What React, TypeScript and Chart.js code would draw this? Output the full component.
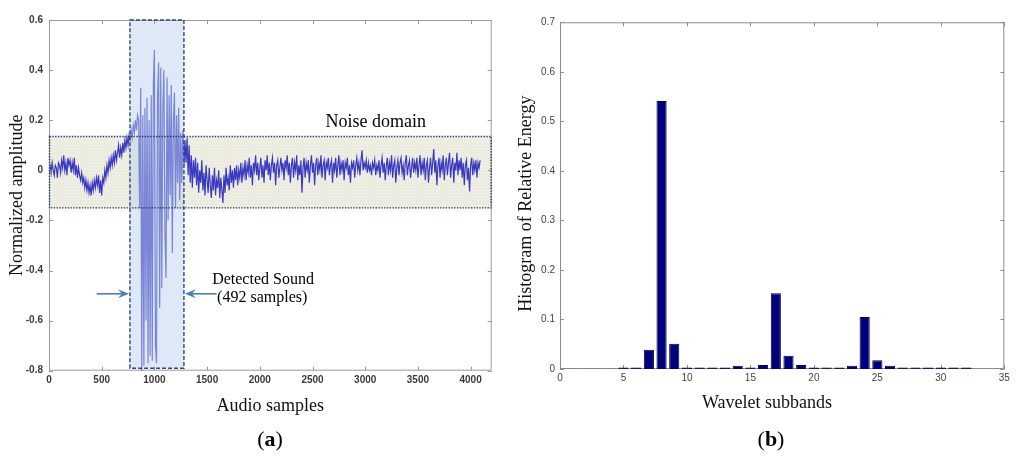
import { useEffect, useRef } from "react";
import { Chart, registerables } from "chart.js";
Chart.register(...registerables);

// ---------- Panel (a): audio waveform ----------
// amplitude sampled every SAMPLE_STEP audio samples, starting at sample 0
const SAMPLE_STEP = 10;
const amplitude: number[] = [
  0.01, 0.02, -0.01, 0.03, 0.0, -0.02, 0.02, 0.01, -0.03, 0.03,
  0.02, -0.01, 0.04, 0.01, 0.06, 0.0, 0.03, -0.02, 0.05, 0.02,
  0.04, -0.01, 0.03, 0.0, 0.05, -0.02, 0.02, -0.03, 0.01, -0.02,
  -0.04, -0.01, -0.05, -0.03, -0.07, -0.04, -0.08, -0.05, -0.09, -0.06,
  -0.1, -0.05, -0.08, -0.04, -0.07, -0.03, -0.06, -0.02, -0.09, -0.04,
  -0.1, -0.03, -0.05, 0.0, -0.03, 0.02, -0.01, 0.04, 0.01, 0.05,
  0.02, 0.06, 0.03, 0.08, 0.04, 0.07, 0.1, 0.05, 0.09, 0.06,
  0.11, 0.07, 0.12, 0.09, 0.13, 0.1, 0.14, 0.12, 0.16, 0.13,
  0.18, 0.15, 0.2, 0.16, 0.22, 0.2, -0.15, 0.33, -0.8, 0.22,
  -0.78, 0.25, -0.6, 0.29, -0.77, 0.2, -0.74, 0.3, -0.76, 0.35,
  0.48, -0.7, -0.77, 0.3, 0.43, -0.55, 0.41, -0.47, 0.25, 0.4,
  -0.25, -0.43, 0.37, -0.2, 0.3, -0.1, 0.34, -0.33, 0.2, 0.31,
  -0.15, 0.22, -0.05, 0.25, -0.12, 0.15, -0.05, 0.16, 0.02, 0.12,
  0.03, 0.13, -0.02, 0.1, -0.05, 0.06, -0.07, 0.04, -0.03, 0.05,
  -0.06, 0.03, -0.09, 0.0, -0.05, 0.04, -0.08, -0.01, -0.1, 0.02,
  -0.04, -0.09, 0.01, -0.06, -0.11, -0.02, -0.08, 0.01, -0.1, -0.04,
  -0.07, 0.0, -0.11, -0.03, -0.08, -0.13, -0.02, -0.09, 0.01, -0.06,
  -0.03, -0.08, 0.02, -0.05, 0.0, -0.07, 0.01, -0.04, 0.02, -0.06,
  0.0, -0.03, 0.03, -0.05, 0.01, -0.02, 0.04, -0.04, 0.02, -0.01,
  0.05, -0.03, 0.02, -0.06, 0.03, 0.0, 0.06, -0.02, 0.03, -0.04,
  0.01, 0.05, -0.03, 0.02, -0.05, 0.04, 0.0, 0.06, -0.02, 0.03,
  -0.04, 0.02, 0.05, -0.01, 0.03, -0.06, 0.02, 0.04, -0.03, 0.01,
  0.05, 0.0, 0.03, -0.04, 0.04, 0.01, 0.06, -0.02, 0.03, -0.05,
  0.02, 0.05, -0.03, 0.03, 0.0, 0.06, -0.04, 0.02, -0.02, 0.04,
  -0.09, 0.01, 0.05, -0.03, 0.03, 0.0, 0.04, -0.05, 0.02, 0.06,
  -0.01, 0.03, -0.06, 0.02, 0.05, -0.02, 0.03, 0.0, 0.06, -0.03,
  0.02, 0.04, -0.04, 0.03, 0.01, 0.05, -0.02, 0.02, 0.04, -0.05,
  0.03, 0.0, 0.05, -0.03, 0.02, 0.06, -0.02, 0.03, 0.0, 0.04,
  -0.04, 0.03, 0.01, 0.05, -0.02, 0.02, -0.05, 0.03, 0.01, 0.04,
  -0.03, 0.02, 0.05, 0.0, 0.03, -0.02, 0.04, 0.08, 0.0, 0.03,
  0.01, 0.04, -0.01, 0.03, 0.0, 0.02, -0.02, 0.03, 0.01, 0.04,
  -0.02, 0.02, 0.0, 0.04, -0.03, 0.02, 0.05, -0.01, 0.03, -0.04,
  0.02, 0.05, -0.02, 0.03, 0.0, 0.06, -0.03, 0.02, 0.04, -0.05,
  0.01, 0.04, -0.02, 0.03, 0.05, -0.01, 0.02, -0.04, 0.03, 0.06,
  -0.02, 0.02, 0.04, -0.03, 0.01, 0.05, -0.01, 0.03, 0.0, 0.05,
  -0.03, 0.02, 0.06, -0.02, 0.03, 0.0, 0.05, -0.04, 0.02, 0.04,
  -0.05, 0.01, 0.05, -0.02, 0.03, 0.085, -0.01, 0.04, -0.06, 0.02,
  0.05, -0.03, 0.03, 0.0, 0.06, -0.04, 0.02, 0.05, -0.02, 0.03,
  0.07, -0.03, 0.02, 0.05, -0.05, 0.03, 0.0, 0.07, -0.02, 0.04,
  0.0, 0.05, -0.03, 0.03, -0.06, 0.02, 0.04, -0.04, 0.01, -0.085,
  0.02, 0.05, -0.02, 0.03, 0.0, 0.04, -0.03, 0.03, 0.01, 0.04,
];
const waveXRange = { min: 0, max: 4200 };
const waveXTicks = [0, 500, 1000, 1500, 2000, 2500, 3000, 3500, 4000];
const waveYRange = { min: -0.8, max: 0.6 };
const waveYTicks = [-0.8, -0.6, -0.4, -0.2, 0, 0.2, 0.4, 0.6];
const noiseDomain = { low: -0.15, high: 0.135 };
const detectedSound = { start: 768, end: 1280, low: -0.79, high: 0.6 };
const noiseLabel = { text: "Noise domain", x: 3100, y: 0.19 };
const soundLabel = ["Detected Sound", "(492 samples)"];
const soundLabelPos = { x: 1548, y1: -0.438, x2: 1595, y2: -0.51 };
const arrowPos = { y: -0.493, leftTail: 452, rightTail: 1590 };

// ---------- Panel (b): wavelet subband histogram ----------
const subbands = [
  1, 2, 3, 4, 5, 6, 7, 8, 9, 10, 11, 12, 13, 14, 15, 16,
  17, 18, 19, 20, 21, 22, 23, 24, 25, 26, 27, 28, 29, 30, 31, 32,
];
const relativeEnergy = [
  0.0002, 0.0002, 0.0002, 0.0002, 0.001, 0.003, 0.039, 0.541,
  0.051, 0.001, 0.0005, 0.001, 0.0025, 0.0065, 0.001, 0.008,
  0.153, 0.027, 0.008, 0.002, 0.001, 0.002, 0.0065, 0.105,
  0.0175, 0.0065, 0.002, 0.001, 0.001, 0.002, 0.001, 0.001,
];
const barXRange = { min: 0, max: 35 };
const barXTicks = [0, 5, 10, 15, 20, 25, 30, 35];
const barYRange = { min: 0, max: 0.7 };
const barYTicks = [0, 0.1, 0.2, 0.3, 0.4, 0.5, 0.6, 0.7];

const W = 1024;
const H = 467;
const SERIF = '"Liberation Serif", "Times New Roman", serif';
const SANS = '"Liberation Sans", Arial, sans-serif';

const fmt1 = (v: number) => {
  const r = Math.round(v * 10) / 10;
  return r === 0 ? "0" : String(r);
};

const setTicks = (values: number[]) => (s: any) => {
  s.ticks = values.map((v) => ({ value: v }));
};

function drawFrame(chart: any, color: string, tickLen: number) {
  const { ctx, chartArea } = chart;
  const { left, right, top, bottom } = chartArea;
  const xs = chart.scales.x;
  const ys = chart.scales.y;
  ctx.save();
  ctx.strokeStyle = color;
  ctx.lineWidth = 1;
  ctx.beginPath();
  ctx.rect(left + 0.5, top + 0.5, right - left - 1, bottom - top - 1);
  ctx.stroke();
  ctx.beginPath();
  xs.ticks.forEach((t: any) => {
    const px = Math.round(xs.getPixelForValue(t.value)) + 0.5;
    ctx.moveTo(px, bottom);
    ctx.lineTo(px, bottom - tickLen);
    ctx.moveTo(px, top);
    ctx.lineTo(px, top + tickLen);
  });
  ys.ticks.forEach((t: any) => {
    const py = Math.round(ys.getPixelForValue(t.value)) + 0.5;
    ctx.moveTo(left, py);
    ctx.lineTo(left + tickLen, py);
    ctx.moveTo(right, py);
    ctx.lineTo(right - tickLen, py);
  });
  ctx.stroke();
  ctx.restore();
}

function drawPanelLabel(ctx: CanvasRenderingContext2D, letter: string, cx: number, cy: number) {
  ctx.save();
  ctx.fillStyle = "#000";
  ctx.textBaseline = "middle";
  const normal = `22px ${SERIF}`;
  const bold = `bold 22px ${SERIF}`;
  ctx.font = normal;
  const wp = ctx.measureText("(").width;
  const wq = ctx.measureText(")").width;
  ctx.font = bold;
  const wl = ctx.measureText(letter).width;
  let x = cx - (wp + wl + wq) / 2;
  ctx.textAlign = "left";
  ctx.font = normal;
  ctx.fillText("(", x, cy);
  x += wp;
  ctx.font = bold;
  ctx.fillText(letter, x, cy);
  x += wl;
  ctx.font = normal;
  ctx.fillText(")", x, cy);
  ctx.restore();
}

function drawArrow(ctx: CanvasRenderingContext2D, x0: number, x1: number, y: number) {
  const dir = Math.sign(x1 - x0);
  ctx.save();
  ctx.strokeStyle = "#4a7ebb";
  ctx.fillStyle = "#4a7ebb";
  ctx.lineWidth = 1.6;
  ctx.beginPath();
  ctx.moveTo(x0, y);
  ctx.lineTo(x1 - dir * 6, y);
  ctx.stroke();
  ctx.beginPath();
  ctx.moveTo(x1, y);
  ctx.lineTo(x1 - dir * 11, y - 4.5);
  ctx.lineTo(x1 - dir * 7, y);
  ctx.lineTo(x1 - dir * 11, y + 4.5);
  ctx.closePath();
  ctx.fill();
  ctx.restore();
}

function makePattern(ctx: CanvasRenderingContext2D, base: string, dot: string) {
  const c = document.createElement("canvas");
  c.width = 3;
  c.height = 3;
  const g = c.getContext("2d")!;
  g.fillStyle = base;
  g.fillRect(0, 0, 3, 3);
  g.fillStyle = dot;
  g.fillRect(1, 1, 1, 1);
  return ctx.createPattern(c, "repeat") || base;
}

const waveDecor = {
  id: "waveDecor",
  beforeDatasetsDraw(chart: any) {
    const { ctx, chartArea } = chart;
    const ys = chart.scales.y;
    const yTop = ys.getPixelForValue(noiseDomain.high);
    const yBot = ys.getPixelForValue(noiseDomain.low);
    ctx.save();
    ctx.fillStyle = makePattern(ctx, "#ecebdf", "#f6f5ee");
    ctx.fillRect(chartArea.left, yTop, chartArea.right - chartArea.left, yBot - yTop);
    ctx.restore();
  },
  afterDatasetsDraw(chart: any) {
    const { ctx, chartArea } = chart;
    const xs = chart.scales.x;
    const ys = chart.scales.y;
    const { left, right, top, bottom } = chartArea;

    // detected sound overlay
    const sx0 = xs.getPixelForValue(detectedSound.start);
    const sx1 = xs.getPixelForValue(detectedSound.end);
    const sy0 = ys.getPixelForValue(detectedSound.high);
    const sy1 = ys.getPixelForValue(detectedSound.low);
    ctx.save();
    ctx.fillStyle = "rgba(190,210,238,0.5)";
    ctx.fillRect(sx0, sy0, sx1 - sx0, sy1 - sy0);
    ctx.restore();

    drawFrame(chart, "#9a9a9a", 4);

    // noise domain dotted border
    const ny0 = ys.getPixelForValue(noiseDomain.high);
    const ny1 = ys.getPixelForValue(noiseDomain.low);
    ctx.save();
    ctx.strokeStyle = "#1f3a64";
    ctx.lineWidth = 1.4;
    ctx.setLineDash([1.4, 1.4]);
    ctx.strokeRect(left + 0.5, ny0, right - left - 1, ny1 - ny0);
    ctx.restore();

    // detected sound dashed border
    ctx.save();
    ctx.strokeStyle = "#2a4a78";
    ctx.lineWidth = 1.4;
    ctx.setLineDash([4, 2]);
    ctx.strokeRect(sx0, sy0, sx1 - sx0, sy1 - sy0);
    ctx.restore();

    // arrows
    const ay = ys.getPixelForValue(arrowPos.y);
    drawArrow(ctx, xs.getPixelForValue(arrowPos.leftTail), sx0 - 1, ay);
    drawArrow(ctx, xs.getPixelForValue(arrowPos.rightTail), sx1 + 1, ay);

    // annotation texts
    ctx.save();
    ctx.fillStyle = "#000";
    ctx.textBaseline = "middle";
    ctx.font = `18px ${SERIF}`;
    ctx.textAlign = "center";
    ctx.fillText(noiseLabel.text, xs.getPixelForValue(noiseLabel.x), ys.getPixelForValue(noiseLabel.y));
    ctx.font = `16px ${SERIF}`;
    ctx.textAlign = "left";
    ctx.fillText(soundLabel[0], xs.getPixelForValue(soundLabelPos.x), ys.getPixelForValue(soundLabelPos.y1));
    ctx.fillText(soundLabel[1], xs.getPixelForValue(soundLabelPos.x2), ys.getPixelForValue(soundLabelPos.y2));
    ctx.restore();

    // axis titles
    ctx.save();
    ctx.fillStyle = "#111";
    ctx.font = `18px ${SERIF}`;
    ctx.textAlign = "center";
    ctx.textBaseline = "middle";
    ctx.fillText("Audio samples", (left + right) / 2, 406);
    ctx.translate(17, (top + bottom) / 2);
    ctx.rotate(-Math.PI / 2);
    ctx.fillText("Normalized amplitude", 0, 0);
    ctx.restore();

    drawPanelLabel(ctx, "a", 270, 440);
  },
};

const barDecor = {
  id: "barDecor",
  beforeDatasetsDraw(chart: any) {
    drawFrame(chart, "#8c8c8c", 4);
  },
  afterDatasetsDraw(chart: any) {
    const { ctx, chartArea } = chart;
    const { top, bottom } = chartArea;
    ctx.save();
    ctx.fillStyle = "#111";
    ctx.font = `18px ${SERIF}`;
    ctx.textAlign = "center";
    ctx.textBaseline = "middle";
    ctx.save();
    ctx.beginPath();
    ctx.rect(0, 0, chart.width, 408);
    ctx.clip();
    ctx.fillText("Wavelet subbands", 267, 403);
    ctx.restore();
    ctx.translate(26, (top + bottom) / 2 + 8);
    ctx.rotate(-Math.PI / 2);
    ctx.fillText("Histogram of Relative Energy", 0, 0);
    ctx.restore();
    drawPanelLabel(ctx, "b", 271, 440);
  },
};

export default function App() {
  const leftRef = useRef<HTMLCanvasElement>(null);
  const rightRef = useRef<HTMLCanvasElement>(null);

  useEffect(() => {
    document.body.style.margin = "0";
    document.body.style.background = "#fff";

    const wavePoints = amplitude.map((v, i) => ({ x: i * SAMPLE_STEP, y: v }));
    const wave = new Chart(leftRef.current!, {
      type: "line",
      data: {
        datasets: [
          {
            data: wavePoints,
            borderColor: "rgba(40,40,190,0.92)",
            borderWidth: 1.2,
            pointRadius: 0,
            tension: 0,
            fill: false,
          },
        ],
      },
      options: {
        responsive: false,
        animation: false,
        devicePixelRatio: 1,
        layout: { padding: { left: 0, top: 20, right: 8.3, bottom: 0 } },
        plugins: { legend: { display: false }, tooltip: { enabled: false } },
        scales: {
          x: {
            type: "linear",
            min: waveXRange.min,
            max: waveXRange.max,
            grid: { display: false, drawTicks: false },
            border: { display: false },
            afterBuildTicks: setTicks(waveXTicks),
            ticks: {
              autoSkip: false,
              maxRotation: 0,
              padding: 4,
              color: "#3a3a3a",
              font: { family: SANS, size: 10, weight: "bold" },
              callback: (v: any) => String(v),
            },
            afterFit: (s: any) => {
              s.height = H - 370.7;
            },
          },
          y: {
            type: "linear",
            min: waveYRange.min,
            max: waveYRange.max,
            grid: { display: false, drawTicks: false },
            border: { display: false },
            afterBuildTicks: setTicks(waveYTicks),
            ticks: {
              padding: 6,
              color: "#3a3a3a",
              font: { family: SANS, size: 10, weight: "bold" },
              callback: (v: any) => fmt1(Number(v)),
            },
            afterFit: (s: any) => {
              s.width = 49;
            },
          },
        },
      },
      plugins: [waveDecor],
    });

    const bars = new Chart(rightRef.current!, {
      type: "bar",
      data: {
        datasets: [
          {
            data: subbands.map((s, i) => ({ x: s, y: relativeEnergy[i] })),
            backgroundColor: (c: any) =>
              c.raw && c.raw.y < 0.0005 ? "rgba(110,110,200,0.55)" : "#00007c",
            borderColor: (c: any) =>
              c.raw && c.raw.y < 0.0005 ? "rgba(110,110,200,0.0)" : "#000036",
            borderWidth: 1,
            categoryPercentage: 1,
            barPercentage: 0.8,
            minBarLength: 1.5,
          },
        ],
      },
      options: {
        responsive: false,
        animation: false,
        devicePixelRatio: 1,
        layout: { padding: { left: 0, top: 22.3, right: 19.7, bottom: 0 } },
        plugins: { legend: { display: false }, tooltip: { enabled: false } },
        scales: {
          x: {
            type: "linear",
            min: barXRange.min,
            max: barXRange.max,
            offset: false,
            grid: { display: false, drawTicks: false },
            border: { display: false },
            afterBuildTicks: setTicks(barXTicks),
            ticks: {
              autoSkip: false,
              maxRotation: 0,
              padding: 3,
              color: "#444",
              font: { family: SANS, size: 10 },
              callback: (v: any) => String(v),
            },
            afterFit: (s: any) => {
              s.height = H - 369;
            },
          },
          y: {
            type: "linear",
            min: barYRange.min,
            max: barYRange.max,
            grid: { display: false, drawTicks: false },
            border: { display: false },
            afterBuildTicks: setTicks(barYTicks),
            ticks: {
              padding: 5,
              color: "#444",
              font: { family: SANS, size: 10 },
              callback: (v: any) => fmt1(Number(v)),
            },
            afterFit: (s: any) => {
              s.width = 60;
            },
          },
        },
      },
      plugins: [barDecor],
    });

    return () => {
      wave.destroy();
      bars.destroy();
    };
  }, []);

  return (
    <div style={{ position: "relative", width: W, height: H, background: "#fff" }}>
      <canvas ref={leftRef} width={500} height={H} style={{ position: "absolute", left: 0, top: 0 }} />
      <canvas ref={rightRef} width={524} height={H} style={{ position: "absolute", left: 500, top: 0 }} />
    </div>
  );
}
